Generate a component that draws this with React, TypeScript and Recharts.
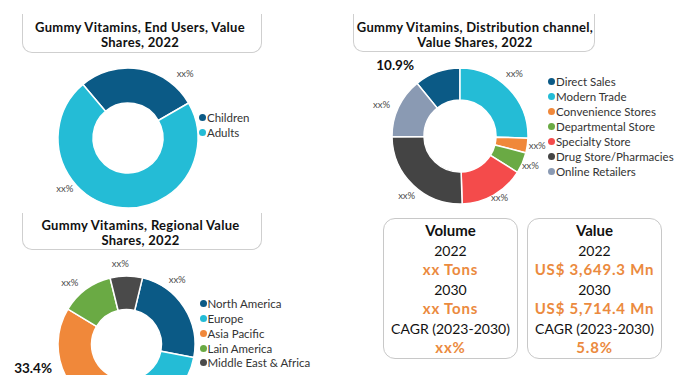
import React from "react";
import { PieChart, Pie, Cell } from "recharts";

const endUserNames = ["Children", "Adults"];
const endUserValues = [27.8, 72.2];
const endUserLabels = ["xx%", "xx%"];

const channelNames = [
  "Direct Sales",
  "Modern Trade",
  "Convenience Stores",
  "Departmental Store",
  "Specialty Store",
  "Drug Store/Pharmacies",
  "Online Retailers",
];
const channelValues = [10.9, 25.5, 3.5, 5.0, 15.5, 25.3, 14.3];
const channelLabels = ["10.9%", "xx%", "xx%", "xx%", "xx%", "xx%", "xx%"];

const regionNames = ["North America", "Europe", "Asia Pacific", "Lain America", "Middle East & Africa"];
const regionValues = [24.3, 22.2, 33.4, 12.5, 7.6];
const regionLabels = ["xx%", "", "33.4%", "xx%", "xx%"];

const volumeRows = ["2022", "xx Tons", "2030", "xx Tons", "CAGR (2023-2030)", "xx%"];
const valueRows = ["2022", "US$ 3,649.3 Mn", "2030", "US$ 5,714.4 Mn", "CAGR (2023-2030)", "5.8%"];

const endUserColors = ["#0B5A86", "#24BCD6"];
const channelColors = ["#0B5A86", "#24BCD6", "#F0883A", "#6AAA44", "#F44B4B", "#444444", "#8A9AB3"];
const regionColors = ["#0B5A86", "#24BCD6", "#F0883A", "#6AAA44", "#4A4A4A"];

const endUserOffsets = [[46, 20], [-46, -26]];
const channelOffsets = [[-35, 8], [0, -3], [1, 2], [0, 2], [3, -4], [5, 6], [-3, 6]];
const regionOffsets = [[-14, -17], [0, 0], [-20, -12], [-6, 7], [-3, 3]];
const LABEL_NUDGE = [-3, -4];

const FONT = "Lato, 'Open Sans', sans-serif";
const ORANGE = "#EB8A3E";
const RAD = Math.PI / 180;

const toData = (names: string[], values: number[]) => names.map((name, i) => ({ name, value: values[i] }));

const makeLabel = (labels: string[], offsets: number[][]) => (props: any) => {
  const { cx, cy, midAngle, outerRadius, index } = props;
  const text = labels[index];
  if (!text) return null;
  const r = outerRadius + 12;
  const x = cx + r * Math.cos(-midAngle * RAD) + offsets[index][0] + LABEL_NUDGE[0];
  const y = cy + r * Math.sin(-midAngle * RAD) + offsets[index][1] + LABEL_NUDGE[1];
  const bold = text !== "xx%";
  return (
    <text
      key={`lbl-${index}`}
      x={x}
      y={y}
      textAnchor="middle"
      dominantBaseline="central"
      fontFamily={FONT}
      fontSize={bold ? 13.5 : 9.5}
      fontWeight={bold ? 700 : 400}
      fill={bold ? "#111" : "#4a4a4a"}
    >
      {text}
    </text>
  );
};

const TitleBox = ({ left, top, width, height, lines, textTop, textCenter }: any) => (
  <>
    <div
      style={{
        position: "absolute",
        left,
        top,
        width,
        height,
        border: "1px solid #cfcfcf",
        borderTop: "none",
        borderRadius: "0 0 10px 10px",
        boxSizing: "border-box",
      }}
    />
    <div
      style={{
        position: "absolute",
        left: textCenter - 150,
        width: 300,
        top: textTop,
        textAlign: "center",
        fontFamily: FONT,
        fontWeight: 700,
        fontSize: 13,
        letterSpacing: 0.3,
        lineHeight: "15px",
        color: "#111",
      }}
    >
      {lines.map((l: string, i: number) => (
        <div key={i}>{l}</div>
      ))}
    </div>
  </>
);

const Legend = ({ left, top, names, colors, lineHeight }: any) => (
  <div style={{ position: "absolute", left, top, fontFamily: FONT, fontSize: 11.5, color: "#333" }}>
    {names.map((n: string, i: number) => (
      <div key={n} style={{ display: "flex", alignItems: "center", height: lineHeight, whiteSpace: "nowrap" }}>
        <span
          style={{
            display: "inline-block",
            width: 7,
            height: 7,
            borderRadius: "50%",
            background: colors[i],
            marginRight: 1,
          }}
        />
        {n}
      </div>
    ))}
  </div>
);

const InfoBox = ({ left, title, rows }: any) => (
  <div
    style={{
      position: "absolute",
      left,
      top: 218,
      width: 135,
      height: 141,
      border: "1px solid #c8c8c8",
      borderRadius: 12,
      boxSizing: "border-box",
      paddingTop: 2,
      textAlign: "center",
      fontFamily: FONT,
      fontSize: 14,
      lineHeight: "19.5px",
      color: "#111",
    }}
  >
    <div style={{ fontWeight: 700, fontSize: 15 }}>{title}</div>
    {rows.map((r: string, i: number) => (
      <div
        key={i}
        style={{
          color: i % 2 === 1 ? ORANGE : "#111",
          fontWeight: i % 2 === 1 ? 700 : 400,
          fontSize: i % 2 === 1 ? 15 : 14,
          letterSpacing: i % 2 === 1 ? 0.8 : 0,
          whiteSpace: "nowrap",
        }}
      >
        {r}
      </div>
    ))}
  </div>
);

export default function App() {
  const endUserData = toData(endUserNames, endUserValues);
  const channelData = toData(channelNames, channelValues);
  const regionData = toData(regionNames, regionValues);
  const channelTotal = channelValues.reduce((a, b) => a + b, 0);
  const channelStart = 90 + (360 * channelValues[0]) / channelTotal;

  return (
    <div
      style={{
        position: "fixed",
        left: 0,
        top: 0,
        width: 700,
        height: 375,
        background: "#fff",
        overflow: "hidden",
      }}
    >
      <div style={{ position: "absolute", left: 0, top: 0 }}>
        <PieChart width={700} height={375}>
          <Pie
            data={endUserData}
            dataKey="value"
            nameKey="name"
            cx={123}
            cy={133}
            innerRadius={35}
            outerRadius={70}
            startAngle={30}
            endAngle={390}
            stroke="#fff"
            strokeWidth={1.5}
            label={makeLabel(endUserLabels, endUserOffsets)}
            labelLine={false}
            isAnimationActive={false}
          >
            {endUserData.map((d, i) => (
              <Cell key={d.name} fill={endUserColors[i]} />
            ))}
          </Pie>
          <Pie
            data={channelData}
            dataKey="value"
            nameKey="name"
            cx={455}
            cy={131}
            innerRadius={36}
            outerRadius={68}
            startAngle={channelStart}
            endAngle={channelStart - 360}
            stroke="#fff"
            strokeWidth={1.5}
            label={makeLabel(channelLabels, channelOffsets)}
            labelLine={false}
            isAnimationActive={false}
          >
            {channelData.map((d, i) => (
              <Cell key={d.name} fill={channelColors[i]} />
            ))}
          </Pie>
          <Pie
            data={regionData}
            dataKey="value"
            nameKey="name"
            cx={121.5}
            cy={339.5}
            innerRadius={35}
            outerRadius={68.5}
            startAngle={76.5}
            endAngle={76.5 - 360}
            stroke="#fff"
            strokeWidth={1.5}
            label={makeLabel(regionLabels, regionOffsets)}
            labelLine={false}
            isAnimationActive={false}
          >
            {regionData.map((d, i) => (
              <Cell key={d.name} fill={regionColors[i]} />
            ))}
          </Pie>
        </PieChart>
      </div>

      <TitleBox
        left={22}
        top={14}
        width={240}
        height={39}
        lines={["Gummy Vitamins, End Users, Value", "Shares, 2022"]}
        textTop={19.5}
        textCenter={140}
      />
      <TitleBox
        left={353}
        top={14}
        width={242}
        height={38}
        lines={["Gummy Vitamins, Distribution channel,", "Value Shares, 2022"]}
        textTop={19.5}
        textCenter={475}
      />
      <TitleBox
        left={22}
        top={213}
        width={240}
        height={37}
        lines={["Gummy Vitamins, Regional Value", "Shares, 2022"]}
        textTop={217.5}
        textCenter={140.5}
      />

      <Legend left={199} top={109.5} names={endUserNames} colors={endUserColors} lineHeight={15} />
      <Legend left={548} top={73.5} names={channelNames} colors={channelColors} lineHeight={15} />
      <Legend left={199.5} top={296.6} names={regionNames} colors={regionColors} lineHeight={14.75} />

      <InfoBox left={383} title="Volume" rows={volumeRows} />
      <InfoBox left={527} title="Value" rows={valueRows} />
    </div>
  );
}
